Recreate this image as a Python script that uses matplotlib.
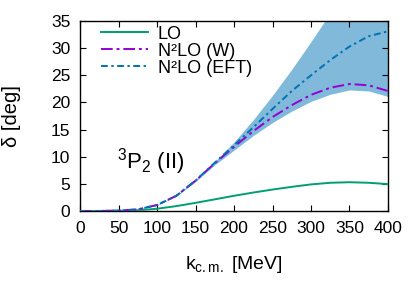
import matplotlib
matplotlib.use("Agg")
import matplotlib.pyplot as plt
import numpy as np

plt.rcParams['font.family'] = ['Liberation Sans', 'DejaVu Sans']
plt.rcParams['mathtext.fontset'] = 'custom'
plt.rcParams['mathtext.rm'] = 'Liberation Sans'
plt.rcParams['mathtext.it'] = 'Liberation Sans:italic'

k = [0, 25, 50, 75, 100, 125, 150, 175, 200, 225, 250, 275, 300, 325, 350, 375, 400]
lo = [0, 0.0, 0.03, 0.12, 0.42, 0.9, 1.5, 2.15, 2.8, 3.4, 3.95, 4.45, 4.9, 5.2, 5.3, 5.2, 4.95]
n2lo_w = [0, 0.01, 0.08, 0.3, 1.1, 2.8, 5.6, 8.8, 11.8, 14.7, 17.3, 19.5, 21.4, 22.7, 23.4, 23.15, 22.1]
n2lo_eft = [0, 0.01, 0.08, 0.3, 1.1, 2.8, 5.6, 8.9, 12.1, 15.4, 18.8, 22.1, 25.0, 27.8, 30.3, 32.2, 33.1]
band_hi = [0, 0.02, 0.1, 0.33, 1.15, 2.9, 5.8, 9.1, 12.7, 16.8, 21.3, 26.1, 31.2, 36.5, 42.0, 47.5, 53.0]
band_lo = [0, 0.0, 0.06, 0.27, 1.05, 2.7, 5.4, 8.5, 11.2, 13.9, 16.3, 18.4, 20.2, 21.5, 22.3, 22.1, 21.1]

fig = plt.figure(figsize=(4.2, 2.94), dpi=100)
ax = fig.add_axes([0.1905, 0.2823, 0.7333, 0.6463])

ax.fill_between(k, band_lo, band_hi, color='#80b9da', lw=0, zorder=1)
ax.plot(k, lo, color='#009e73', lw=1.4, label='LO', zorder=3)
ax.plot(k, n2lo_w, color='#9400d3', lw=1.4, dashes=(6, 2, 1.5, 2), label='N²LO (W)', zorder=3)
ax.plot(k, n2lo_eft, color='#0072b2', lw=1.4, dashes=(3.5, 1.8, 1.2, 1.8), label='N²LO (EFT)', zorder=4)

ax.set_xlim(0, 400)
ax.set_ylim(0, 35)
ax.set_xticks(range(0, 401, 50))
ax.set_yticks(range(0, 36, 5))
ax.tick_params(direction='in', top=True, right=True, length=4, width=0.8, labelsize=12.5)
ax.tick_params(axis='x', pad=7)
ax.tick_params(axis='y', pad=7)
for s in ax.spines.values():
    s.set_linewidth(1.0)

ax.set_xlabel(r'k$_{\rm c.m.}$ [MeV]', fontsize=14)
ax.set_ylabel('δ [deg]', fontsize=14.5)
ax.xaxis.set_label_coords(0.5, -0.225)
ax.yaxis.set_label_coords(-0.19, 0.5)

ax.text(0.12, 0.222, r'$^{3}$P$_{2}$ (II)', transform=ax.transAxes, fontsize=16, va='baseline')

leg = ax.legend(loc='upper left', frameon=False, fontsize=13, handlelength=2.6,
                handletextpad=0.55, labelspacing=0.0, borderpad=0, borderaxespad=0,
                bbox_to_anchor=(0.068, 0.975))

fig.savefig('out.png', dpi=100)
